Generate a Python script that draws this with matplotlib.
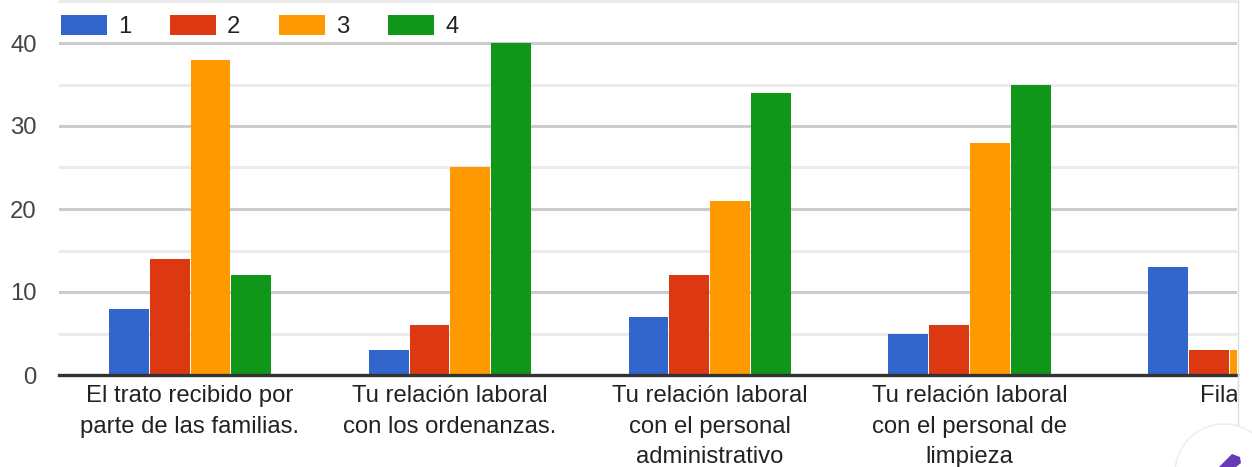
import numpy as np
import matplotlib.pyplot as plt
from matplotlib.patches import Circle, Polygon
from matplotlib.transforms import Bbox

plt.rcParams["font.family"] = ["Liberation Sans", "DejaVu Sans"]

# ── Data ─────────────────────────────────────────────────────────────────────

CATEGORIES = [
    "El trato recibido por\nparte de las familias.",
    "Tu relación laboral\ncon los ordenanzas.",
    "Tu relación laboral\ncon el personal\nadministrativo",
    "Tu relación laboral\ncon el personal de\nlimpieza",
    "Fila 5",
]
SERIES_NAMES = ["1", "2", "3", "4"]
SERIES_1 = [8, 3, 7, 5, 13]
SERIES_2 = [14, 6, 12, 6, 3]
SERIES_3 = [38, 25, 21, 28, 3]
SERIES_4 = [12, 40, 34, 35, np.nan]  # last one is cut off in the picture
Y_MAJOR = [0, 10, 20, 30, 40]
Y_MINOR = [5, 15, 25, 35, 45]

COLOURS = ["#3366cc", "#dc3912", "#ff9900", "#109618"]
FONT_PT = 17.2

W, H = 1252, 467
fig = plt.figure(figsize=(W / 100, H / 100), dpi=100)

# plot area: x 59..1237 px, y 0..375 px from top
ax = fig.add_axes([59 / W, (H - 375) / H, (1237 - 59) / W, 375 / H])

# one category step is about 260 px wide, first group centred near 190 px
step_px = 259.8
first_px = 190.0
ax.set_xlim((59 - first_px) / step_px, (1237 - first_px) / step_px)
ax.set_ylim(0, 375 / 8.3)

bar_step = 40.8 / step_px
bar_w = 39.8 / step_px
x = np.arange(len(CATEGORIES))
all_series = [SERIES_1, SERIES_2, SERIES_3, SERIES_4]
for i, (vals, name, colour) in enumerate(zip(all_series, SERIES_NAMES, COLOURS)):
    ax.bar(x + (i - 1.5) * bar_step, vals, width=bar_w, color=colour, label=name, zorder=3)

# gridlines
for v in Y_MINOR:
    ax.axhline(v, color="#ebebeb", linewidth=2.2, zorder=1)
for v in Y_MAJOR[1:]:
    ax.axhline(v, color="#cccccc", linewidth=2.2, zorder=1)
ax.axhline(0, color="#333333", linewidth=2.4, zorder=4, clip_on=False)

for side in ax.spines.values():
    side.set_visible(False)

ax.set_yticks(Y_MAJOR)
ax.set_yticklabels([str(v) for v in Y_MAJOR], fontsize=FONT_PT, color="#444444")
ax.tick_params(axis="y", length=0, pad=16)
ax.set_xticks([])

# category labels as text so the last one gets cut at the plot's right edge
clip_px = Bbox.from_extents(0, 0, 1237, H)
for xi, label in zip(x, CATEGORIES):
    t = ax.annotate(label, (xi, 0), xytext=(0, -7), textcoords="offset points",
                    ha="center", va="top", fontsize=FONT_PT, color="#222222",
                    linespacing=1.52, annotation_clip=False)
    t.set_clip_on(True)
    t.set_clip_box(clip_px)

# legend above the bars, over the 40 line
handles, labels = ax.get_legend_handles_labels()
leg = fig.legend(handles, labels, loc="upper left", bbox_to_anchor=(61 / W, 1 - 15 / H), ncol=4,
                 frameon=False, fontsize=FONT_PT, handlelength=1.92, handleheight=0.92,
                 handletextpad=0.46, columnspacing=1.63, borderpad=0, borderaxespad=0,
                 labelcolor="#222222")

# thin border on the right and the round edit button in the corner
fig.add_artist(plt.Line2D([1237.5 / W, 1237.5 / W], [0, 1], color="#dddddd", linewidth=1))
fig.add_artist(Circle((1224, H - 473), 49, transform=None, facecolor="white",
                      edgecolor="#ececec", linewidth=1, zorder=5))
pencil = [(1219, H - 467), (1232, H - 454), (1240, H - 457), (1241, H - 463), (1236, H - 467)]
fig.add_artist(Polygon(pencil, closed=True, transform=None, facecolor="#673ab7",
                       edgecolor="none", zorder=6))

fig.savefig("out.png", dpi=100)
